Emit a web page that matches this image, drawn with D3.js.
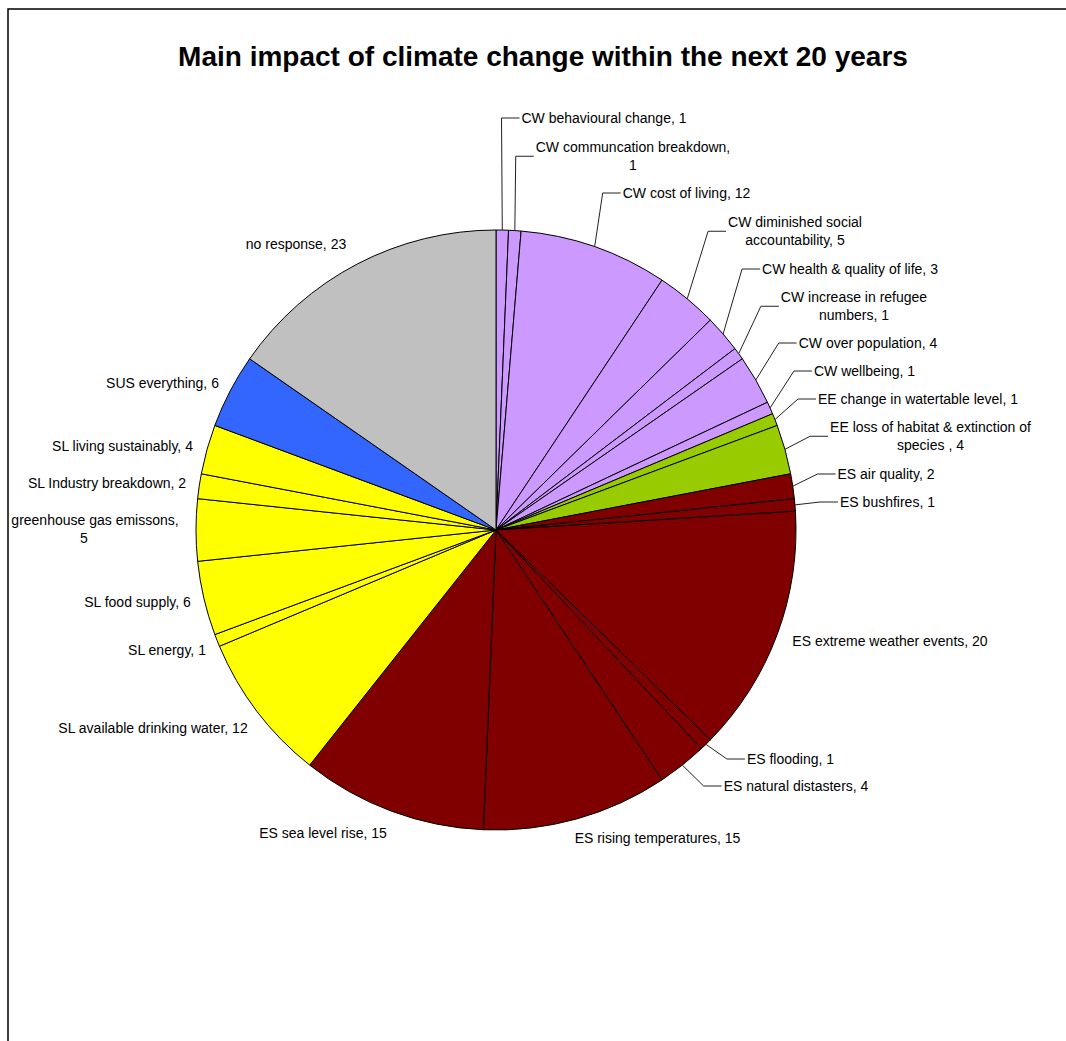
<!DOCTYPE html>
<html>
<head>
<meta charset="utf-8">
<script src="https://cdn.jsdelivr.net/npm/d3@7"></script>
<style>
  html, body { margin: 0; padding: 0; background: #fff; overflow: hidden; }
  svg { display: block; }
  text { font-family: Arial, "Liberation Sans", sans-serif; }
</style>
</head>
<body>
<svg id="chart" width="1066" height="1041"></svg>
<script>
// ---- data ----
const title = "Main impact of climate change within the next 20 years";
const categories = [
  "CW behavioural change", "CW communcation breakdown", "CW cost of living",
  "CW diminished social accountability", "CW health & quality of life",
  "CW increase in refugee numbers", "CW over population", "CW wellbeing",
  "EE change in watertable level", "EE loss of habitat & extinction of species ",
  "ES air quality", "ES bushfires", "ES extreme weather events", "ES flooding",
  "ES natural distasters", "ES rising temperatures", "ES sea level rise",
  "SL available drinking water", "SL energy", "SL food supply",
  "SL greenhouse gas emissons", "SL Industry breakdown", "SL living sustainably",
  "SUS everything", "no response"
];
const values = [1, 1, 12, 5, 3, 1, 4, 1, 1, 4, 2, 1, 20, 1, 4, 15, 15, 12, 1, 6, 5, 2, 4, 6, 23];
const groupNames = ["CW", "EE", "ES", "SL", "SUS", "no"];
const groupColors = ["#CC99FF", "#99CC00", "#800000", "#FFFF00", "#3366FF", "#C0C0C0"];

// ---- label layout (relative to pie centre), not data ----
const labelOffsets = [
  [108, -412], [137, -383], [190.5, -337], [299, -308], [354, -261],
  [358, -233], [372, -187], [368.5, -159], [422, -131], [434.5, -103],
  [390, -56], [391.5, -28], [394, 111], [294.5, 229], [300, 256],
  [161.5, 308], [-173, 303], [-343, 198], [-329, 120], [-358.5, 72],
  [-401, -10], [-389, -47], [-373.5, -84], [-333.5, -147], [-200, -286]
];
const labelBreaks = [0, 3, 0, 3, 0, 4, 0, 0, 0, 7, 0, 0, 0, 0, 0, 0, 0, 0, 0, 0, 4, 0, 0, 0, 0];
const labelLeaders = [1,1,1,1,1,1,1,1,1,1,1,1,0,1,1,0,0,0,0,0,0,0,0,0,0];
// in the original the group prefix of this label runs past the chart's left edge
const labelDropPrefix = [0,0,0,0,0,0,0,0,0,0,0,0,0,0,0,0,0,0,0,0,1,0,0,0,0];
const labelLine2Dx = [0,0,0,0,0,0,0,0,0,0,0,0,0,0,0,0,0,0,0,0,-11,0,0,0,0];

// ---- layout ----
const cx = 496, cy = 530, R = 300;
const lineH = 18.5;

const svg = d3.select("#chart");

// frame
svg.append("rect")
  .attr("x", 8).attr("y", 9).attr("width", 1200).attr("height", 1200)
  .attr("fill", "#fff").attr("stroke", "#000").attr("stroke-width", 1.5);

svg.append("text")
  .attr("x", 543).attr("y", 66)
  .attr("text-anchor", "middle")
  .attr("font-size", 28).attr("font-weight", "bold")
  .attr("fill", "#000")
  .text(title);

const color = d3.scaleOrdinal().domain(groupNames).range(groupColors);
const groupOf = name => name.split(" ")[0];

const data = categories.map((c, i) => ({ name: c, value: values[i], i }));
const pie = d3.pie().sort(null).value(d => d.value).startAngle(0).endAngle(2 * Math.PI);
const arcs = pie(data);
const arc = d3.arc().innerRadius(0).outerRadius(R);
const edgeArc = d3.arc().innerRadius(R).outerRadius(R);

const g = svg.append("g").attr("transform", `translate(${cx},${cy})`);

g.selectAll("path.slice")
  .data(arcs)
  .join("path")
  .attr("class", "slice")
  .attr("d", arc)
  .attr("fill", d => color(groupOf(d.data.name)))
  .attr("stroke", "#000")
  .attr("stroke-width", 1)
  .attr("stroke-linejoin", "round");

// labels
const labelG = g.append("g");
arcs.forEach((a, i) => {
  let full = a.data.name + ", " + a.data.value;
  let words = full.split(" ");
  let br = labelBreaks[i];
  if (labelDropPrefix[i]) { words = words.slice(1); br = Math.max(0, br - 1); }
  full = words.join(" ");
  const lines = br > 0 ? [words.slice(0, br).join(" "), words.slice(br).join(" ")] : [full];
  const [ox, oy] = labelOffsets[i];
  const t = labelG.append("text")
    .attr("text-anchor", "middle")
    .attr("font-size", 14)
    .attr("fill", "#000");
  lines.forEach((ln, k) => {
    t.append("tspan")
      .attr("x", ox + (k > 0 ? labelLine2Dx[i] : 0))
      .attr("y", oy + k * lineH)
      .attr("dy", "0.35em")
      .text(ln);
  });
  if (labelLeaders[i]) {
    const bb = t.node().getBBox();
    const left = bb.x;
    const midY = oy + (lines.length - 1) * lineH / 2;
    const p0 = edgeArc.centroid(a);
    const pts = [p0, [left - 20, midY], [left - 2, midY]];
    labelG.append("path")
      .attr("d", d3.line()(pts))
      .attr("fill", "none")
      .attr("stroke", "#222")
      .attr("stroke-width", 1);
  }
});
</script>
</body>
</html>
